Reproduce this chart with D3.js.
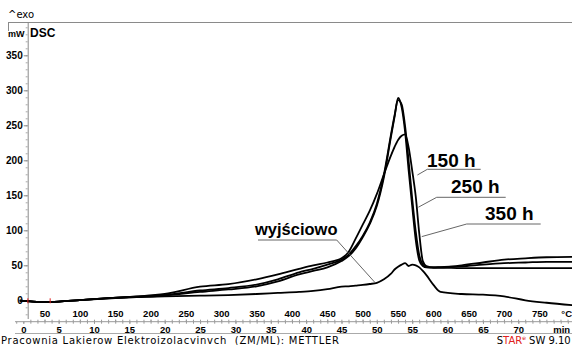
<!DOCTYPE html>
<html><head><meta charset="utf-8">
<script src="https://cdn.jsdelivr.net/npm/d3@7"></script>
<style>
body{margin:0;background:#fff;}
svg{display:block;}
</style>
</head><body>
<svg id="c" width="572" height="345"></svg>
<script>
// ---- data (time in min, heat flow in mW) ----
const timeMin = [-0.5,1,3,5,8,12,16,20,25,29,33,36,39,41,43,45,46,47,48,49,50,51,52,52.5,53,53.5,54,54.5,55,55.5,56,56.5,57,58,59,62,65,68,71,74,77.6];
const mwBase = [-0.5,-1.5,-2.4,-1.8,0.3,2.5,4.5,5.5,6.6,7.5,9,10.5,12,13.5,16,19.5,20,21,22,23.3,25,30,38,44,48,51,53,49,51,50,47,42,36,22,12,9,8,5.5,0,-3.5,-7];
const mw150 = [-0.5,-1.5,-2.4,-1.8,0.3,3,5,6.8,12,15.5,20,27,37,42,47,56,63,74,90,109,135,176,234,262,289,276,240,185,134,86,57,49,47,47,47.5,48.5,51,53,54,55,55];
const mw250 = [-0.5,-1.5,-2.4,-1.8,0.3,3,5.2,7.5,14,17.5,22.5,30,40,45,51,58,65,77,92,111,138,180,237,264,286,280,248,198,145,98,64,51,47.5,46.5,46.5,46,46,46,46,46,46];
const mw350 = [-0.5,-1.5,-2.4,-1.8,0.3,3.2,5.5,9,19.5,23,30,37,45,50,54,60,69,88,108,128,152,180,207,219,229,235,237,218,185,148,95,56,49,47,47,50,54,58,60,61.5,62];
const seriesNames = ["wyjściowo","150 h","250 h","350 h"];
const yTicks = [0,50,100,150,200,250,300,350];
const tempTicks = [50,100,150,200,250,300,350,400,450,500,550,600,650,700,750];
const timeTicks = [0,5,10,15,20,25,30,35,40,45,50,55,60,65,70];
const markerTimes = [0.65,3.8];
// annotation leader targets (time, mW)
const annTarget = [[49.77,25],[55.73,179],[55.87,133],[56.35,91]];

const svg = d3.select("#c");
const x = d3.scaleLinear().domain([0,70]).range([23.3,518.3]);
const y = d3.scaleLinear().domain([0,350]).range([300.3,55.3]);
const tempX = d3.scaleLinear().domain([50,750]).range([44.5,539.3]);

const axisFont = "'Liberation Sans', Arial, sans-serif";
const grey = "#8a8a8a";

// frame
svg.append("line").attr("x1",8).attr("x2",572).attr("y1",22.5).attr("y2",22.5).attr("stroke",grey);
svg.append("line").attr("x1",8.5).attr("x2",8.5).attr("y1",22).attr("y2",31).attr("stroke",grey);
svg.append("line").attr("x1",15).attr("x2",572).attr("y1",333.5).attr("y2",333.5).attr("stroke","#aaa");

// texts
svg.append("text").attr("x",8).attr("y",18).attr("font-family","'DejaVu Sans'").attr("font-size",10).text("^exo");
svg.append("text").attr("x",8).attr("y",36.5).attr("font-family",axisFont).attr("font-weight","bold").attr("font-size",9).text("mW");
svg.append("text").attr("x",30).attr("y",36.7).attr("font-family",axisFont).attr("font-weight","bold").attr("font-size",12).text("DSC");

// y axis
const yAx = y.copy().domain([-26,397.6]).range([y(-26),y(397.6)]);
const yMinor = d3.range(-20,400,10);
const gyMinor = svg.append("g").attr("transform","translate(27.7,0)")
  .call(d3.axisLeft(yAx).tickValues(yMinor).tickSize(2).tickSizeOuter(0).tickFormat(""));
gyMinor.select(".domain").attr("stroke",grey);
gyMinor.selectAll(".tick line").attr("stroke","#aaa");
const gy = svg.append("g").attr("transform","translate(27.7,0)")
  .call(d3.axisLeft(yAx).tickValues(yTicks).tickSize(4).tickSizeOuter(0).tickPadding(1));
gy.select(".domain").remove();
gy.selectAll(".tick line").attr("stroke",grey);
gy.selectAll("text").attr("font-family",axisFont).attr("font-weight","bold").attr("font-size",10).attr("fill","#000");

// x ruler
const rulerY = 321.7;
svg.append("line").attr("x1",15).attr("x2",572).attr("y1",rulerY).attr("y2",rulerY).attr("stroke","#999");
const gtMinor = svg.append("g").attr("transform",`translate(0,${rulerY})`)
  .call(d3.axisTop(tempX).tickValues(d3.range(30,800,10)).tickSize(2).tickSizeOuter(0).tickFormat(""));
gtMinor.select(".domain").remove(); gtMinor.selectAll(".tick line").attr("stroke","#999");
const gt = svg.append("g").attr("transform",`translate(0,${rulerY})`)
  .call(d3.axisTop(tempX).tickValues(tempTicks).tickSize(2).tickSizeOuter(0).tickPadding(3));
gt.select(".domain").remove(); gt.selectAll(".tick line").attr("stroke","#999");
gt.selectAll("text").attr("font-family",axisFont).attr("font-weight","bold").attr("font-size",9.5).attr("fill","#000");
const gmMinor = svg.append("g").attr("transform",`translate(0,${rulerY})`)
  .call(d3.axisBottom(x).tickValues(d3.range(-1,78,1)).tickSize(2).tickSizeOuter(0).tickFormat(""));
gmMinor.select(".domain").remove(); gmMinor.selectAll(".tick line").attr("stroke","#999");
const gm = svg.append("g").attr("transform",`translate(0,${rulerY})`)
  .call(d3.axisBottom(x).tickValues(timeTicks).tickSize(2).tickSizeOuter(0).tickPadding(2.8));
gm.select(".domain").remove(); gm.selectAll(".tick line").attr("stroke","#999");
gm.selectAll("text").attr("font-family",axisFont).attr("font-weight","bold").attr("font-size",9.5).attr("fill","#000");
svg.append("text").attr("x",566.7).attr("y",316.7).attr("text-anchor","middle").attr("font-family",axisFont).attr("font-weight","bold").attr("font-size",9.5).text("°C");
svg.append("text").attr("x",561.7).attr("y",333.2).attr("text-anchor","middle").attr("font-family",axisFont).attr("font-weight","bold").attr("font-size",9.5).text("min");

// curves
const series = [mwBase, mw150, mw250, mw350];
const line = d3.line().x((d,i)=>x(timeMin[i])).y(d=>y(d)).curve(d3.curveMonotoneX);
svg.append("g").selectAll("path").data(series).join("path")
  .attr("d",line).attr("fill","none").attr("stroke","#000").attr("stroke-width",1.8).attr("stroke-linejoin","round");

// segment markers
svg.append("g").selectAll("line").data(markerTimes).join("line")
  .attr("x1",d=>x(d)).attr("x2",d=>x(d)).attr("y1",y(0)-2).attr("y2",y(0)+3)
  .attr("stroke","#e02020").attr("stroke-width",1);

// annotations
const ann = [
  {tx:255, ty:235, ux1:258, ux2:336.7, uy:240, sx:336.7},
  {tx:427, ty:167.3, ux1:427.3, ux2:480.7, uy:169.3, sx:427.3},
  {tx:451, ty:192.7, ux1:436.7, ux2:505.7, uy:197.3, sx:436.7},
  {tx:485, ty:220, ux1:466.7, ux2:540.7, uy:224, sx:466.7}
];
const ga = svg.append("g");
ann.forEach((a,i)=>{
  ga.append("line").attr("x1",a.ux1).attr("x2",a.ux2).attr("y1",a.uy).attr("y2",a.uy).attr("stroke","#555").attr("stroke-width",0.9);
  ga.append("line").attr("x1",a.sx).attr("y1",a.uy).attr("x2",x(annTarget[i][0])).attr("y2",y(annTarget[i][1])).attr("stroke","#555").attr("stroke-width",0.9);
  ga.append("text").attr("x",a.tx).attr("y",a.ty).attr("font-family",axisFont).attr("font-weight","bold").attr("font-size",i===0?16.5:19).text(seriesNames[i]);
});

// footer
svg.append("text").attr("x",1).attr("y",344.3).attr("font-family","'DejaVu Sans'").attr("font-size",10)
  .attr("textLength",338).attr("lengthAdjust","spacing").attr("xml:space","preserve")
  .text("Pracownia Lakierow Elektroizolacvinvch  (ZM/ML): METTLER");
const st = svg.append("text").attr("x",496.7).attr("y",344.3).attr("font-family","'DejaVu Sans'").attr("font-size",10);
st.append("tspan").attr("fill","#000").text("S");
st.append("tspan").attr("fill","#e02020").text("TAR");
st.append("tspan").attr("fill","#e02020").attr("font-size",6).attr("dy",-4).text("e");
st.append("tspan").attr("fill","#000").attr("dy",4).text(" SW 9.10");
</script>
</body></html>
